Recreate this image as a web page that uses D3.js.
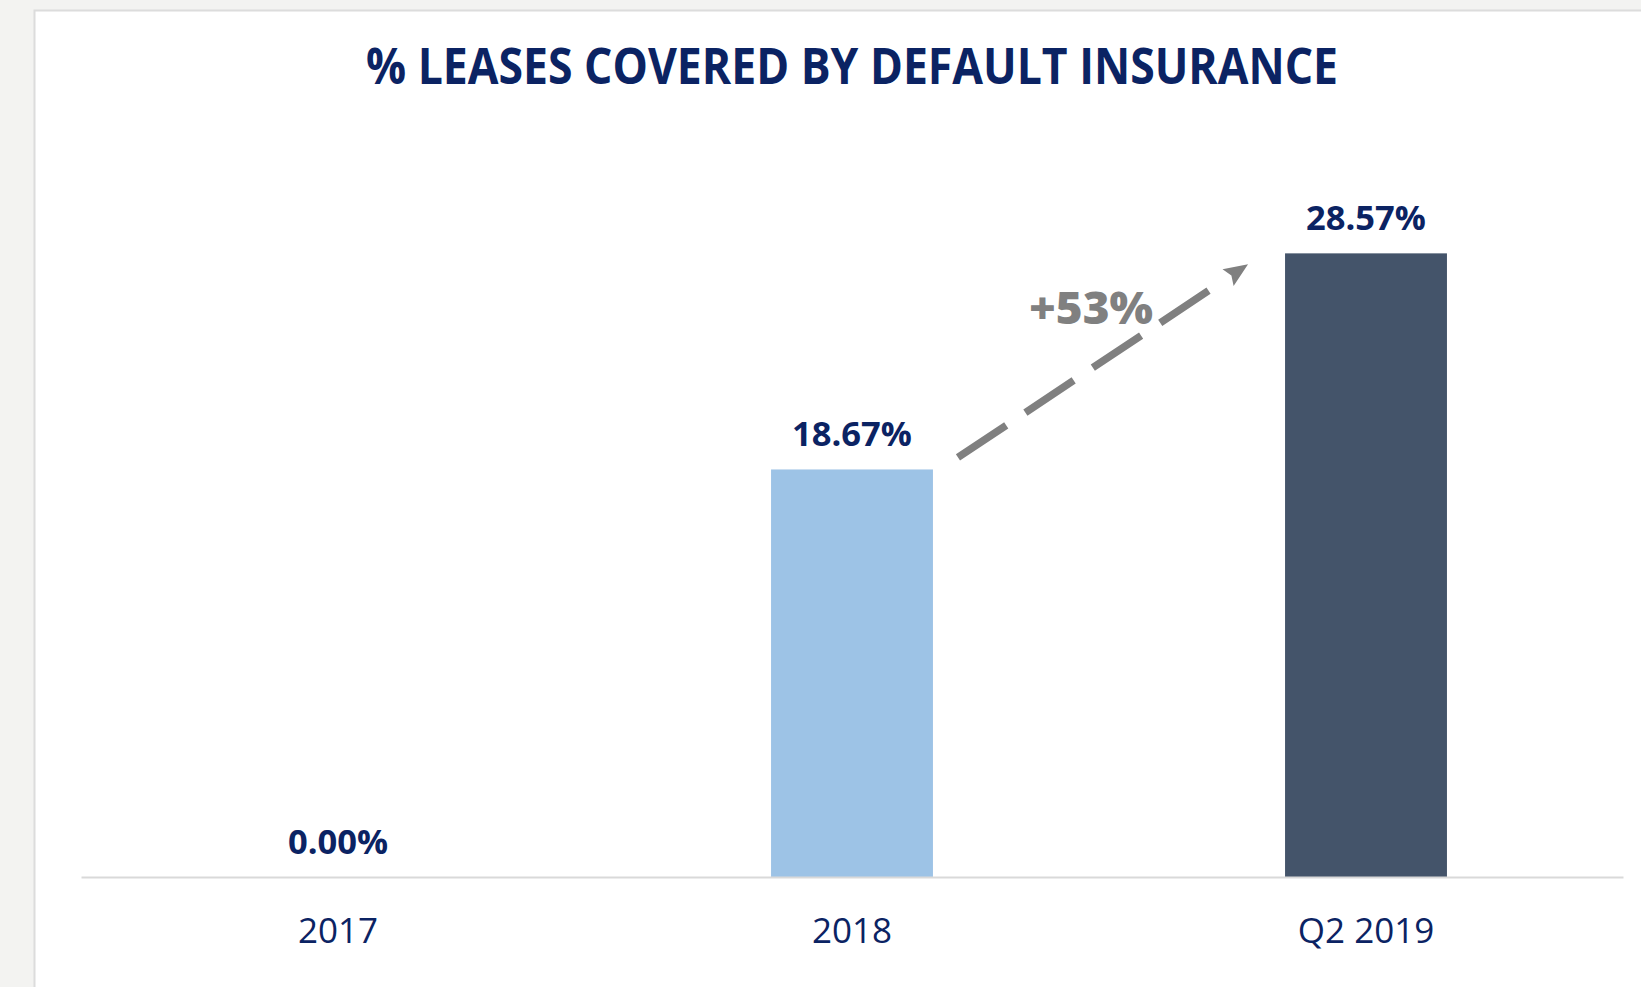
<!DOCTYPE html>
<html>
<head>
<meta charset="utf-8">
<script src="https://cdn.jsdelivr.net/npm/d3@7"></script>
<style>
  html, body { margin: 0; padding: 0; background: #f3f3f1; }
  svg { display: block; }
</style>
</head>
<body>
<svg id="chart" width="1641" height="987"></svg>
<script>
// ---- data ----
const categories = ["2017", "2018", "Q2 2019"];
const values = [0.00, 18.67, 28.57];
const valueLabels = ["0.00%", "18.67%", "28.57%"];
const barColors = ["#9dc3e6", "#9dc3e6", "#44546a"];
const title = "% LEASES COVERED BY DEFAULT INSURANCE";
const growthLabel = "+53%";

// ---- layout ----
const W = 1641, H = 987;
const svg = d3.select("#chart");
const navy = "#0b2363";

// panel
svg.append("rect").attr("x", 0).attr("y", 0).attr("width", W).attr("height", H).attr("fill", "#f3f3f1");
svg.append("rect").attr("x", 34.5).attr("y", 10.5).attr("width", W).attr("height", H)
  .attr("fill", "#ffffff").attr("stroke", "#dcdcdc").attr("stroke-width", 2);

const x = d3.scaleBand().domain(categories).range([81, 1623])
  .paddingInner(0.685).paddingOuter(0.3425);
const y = d3.scaleLinear().domain([0, 35]).range([877, 113]);

// title
svg.append("text").attr("x", 852).attr("y", 84)
  .attr("text-anchor", "middle")
  .attr("font-family", "'Open Sans', sans-serif").attr("font-weight", 700)
  .attr("font-size", 50).attr("fill", navy)
  .attr("textLength", 972).attr("lengthAdjust", "spacingAndGlyphs")
  .text(title);

// bars
svg.append("g").selectAll("rect").data(categories).join("rect")
  .attr("x", d => x(d))
  .attr("y", (d, i) => y(values[i]))
  .attr("width", x.bandwidth())
  .attr("height", (d, i) => y(0) - y(values[i]))
  .attr("fill", (d, i) => barColors[i]);

// baseline axis
const axis = svg.append("g").attr("transform", `translate(0,${y(0)})`)
  .call(d3.axisBottom(x).tickSize(0).tickPadding(0));
axis.select(".domain").attr("stroke", "#d9d9d9").attr("stroke-width", 2);
axis.selectAll(".tick text")
  .attr("dy", 0).attr("y", 66)
  .attr("font-family", "'Open Sans', sans-serif").attr("font-size", 35)
  .attr("fill", navy);

// value labels
svg.append("g").selectAll("text").data(categories).join("text")
  .attr("x", d => x(d) + x.bandwidth() / 2)
  .attr("y", (d, i) => y(values[i]) - 23)
  .attr("text-anchor", "middle")
  .attr("font-family", "'Open Sans', sans-serif").attr("font-weight", 700)
  .attr("font-size", 34.5).attr("fill", navy)
  .text((d, i) => valueLabels[i]);

// growth arrow
const x0 = x(categories[1]) + x.bandwidth() + 25, y0 = y(values[1]) - 12;
const x1 = x(categories[2]) - 37, y1 = y(values[2]) + 11;
const ang = Math.atan2(y1 - y0, x1 - x0);
const headLen = 24, headHalf = 10;
const bx = x1 - headLen * Math.cos(ang), by = y1 - headLen * Math.sin(ang);
const lineLen = Math.hypot(bx - x0, by - y0) - 6;
svg.append("line")
  .attr("x1", x0).attr("y1", y0)
  .attr("x2", x0 + lineLen * Math.cos(ang)).attr("y2", y0 + lineLen * Math.sin(ang))
  .attr("stroke", "#808080").attr("stroke-width", 7.5)
  .attr("stroke-dasharray", "58 23");
const px = -Math.sin(ang), py = Math.cos(ang);
svg.append("path")
  .attr("d", `M${x1},${y1} L${bx + headHalf * px},${by + headHalf * py} L${bx + 4 * Math.cos(ang)},${by + 4 * Math.sin(ang)} L${bx - headHalf * px},${by - headHalf * py} Z`)
  .attr("fill", "#808080");

svg.append("text").attr("x", 1091).attr("y", 324)
  .attr("text-anchor", "middle")
  .attr("font-family", "'Open Sans', sans-serif").attr("font-weight", 800)
  .attr("font-size", 45).attr("fill", "#808080")
  .attr("textLength", 124).attr("lengthAdjust", "spacingAndGlyphs")
  .text(growthLabel);
</script>
</body>
</html>
